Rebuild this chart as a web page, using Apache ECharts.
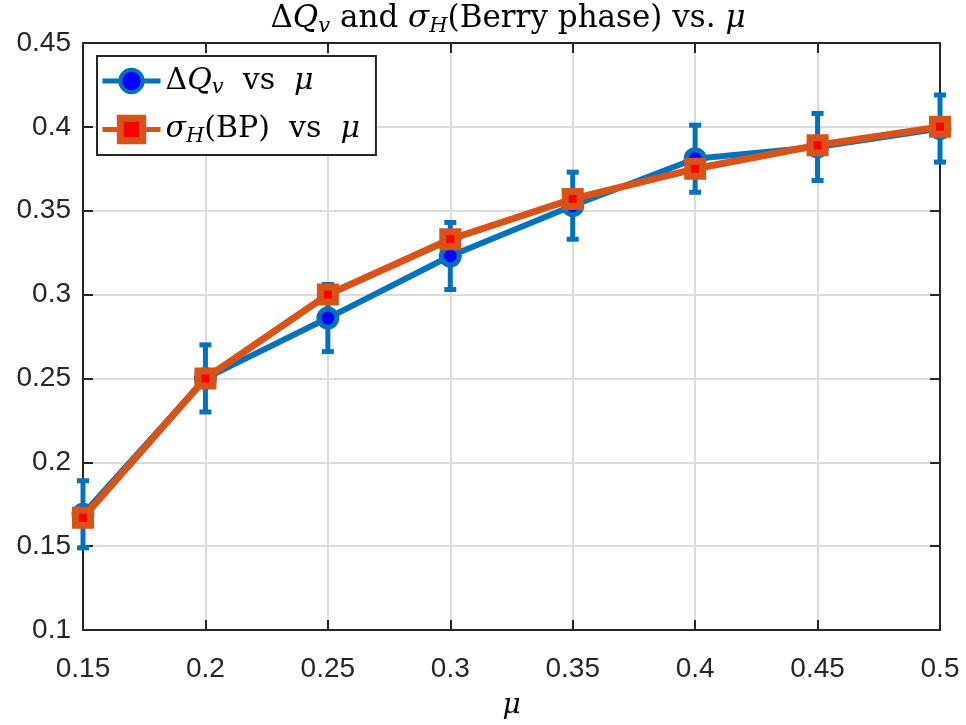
<!DOCTYPE html>
<html>
<head>
<meta charset="utf-8">
<script src="https://cdn.jsdelivr.net/npm/echarts@6/dist/echarts.min.js"></script>
<style>html,body{margin:0;padding:0;background:#fff}#c{width:966px;height:725px}</style>
</head>
<body>
<div id="c"></div>
<script>
var muValues = [0.15, 0.2, 0.25, 0.3, 0.35, 0.4, 0.45, 0.5];
var deltaQv = [0.169, 0.250, 0.286, 0.323, 0.353, 0.381, 0.388, 0.399];
var deltaQvErr = [0.020, 0.020, 0.020, 0.020, 0.020, 0.020, 0.020, 0.020];
var sigmaH = [0.167, 0.250, 0.300, 0.333, 0.357, 0.375, 0.389, 0.400];
var xTickLabels = ['0.15', '0.2', '0.25', '0.3', '0.35', '0.4', '0.45', '0.5'];
var yTickLabels = ['0.1', '0.15', '0.2', '0.25', '0.3', '0.35', '0.4', '0.45'];

var BLUE = '#0072BD', ORANGE = '#D95319', AX = '#262626';
var sans = 'Liberation Sans';
var serif = 'DejaVu Serif';

function fmt(list) {
  return function (v) {
    for (var i = 0; i < list.length; i++) if (Math.abs(parseFloat(list[i]) - v) < 1e-6) return list[i];
    return '';
  };
}

function mathStyles(size, sub, drop) {
  return {
    r: { fontFamily: serif, fontSize: size, fontWeight: 'normal', color: '#000' },
    i: { fontFamily: serif, fontSize: size, fontStyle: 'italic', fontWeight: 'normal', color: '#000' },
    s: { fontFamily: serif, fontSize: sub, fontStyle: 'italic', fontWeight: 'normal', color: '#000', padding: [drop, 0, 0, 0] }
  };
}

var chart = echarts.init(document.getElementById('c'), null, { renderer: 'canvas' });
var option = {
  backgroundColor: '#fff',
  animation: false,
  title: {
    text: '{r|Δ}{i|Q}{s|v}{r| and }{i|σ}{s|H}{r|(Berry phase) vs. }{i|μ}',
    left: 508, textAlign: 'center', top: 0, padding: [1, 0, 0, 0],
    textStyle: { fontFamily: serif, fontSize: 31, fontWeight: 'normal', rich: mathStyles(31, 21, 15) }
  },
  grid: { left: 83, right: 26, top: 43, bottom: 89, containLabel: false },
  legend: {
    orient: 'vertical', left: 97, top: 56,
    backgroundColor: '#fff', borderColor: AX, borderWidth: 2,
    padding: [10, 16, 8, 3], itemGap: 16, itemWidth: 58, itemHeight: 28,
    lineStyle: { width: 5 },
    data: [
      { name: 'dq', itemStyle: { color: '#0000FF', borderColor: BLUE, borderWidth: 4 } },
      { name: 'sh', itemStyle: { color: '#FF0000', borderColor: ORANGE, borderWidth: 7 } }
    ],
    formatter: function (n) {
      return n === 'dq' ? '{r|Δ}{i|Q}{s|v}{r|  vs  }{i|μ}' : '{i|σ}{s|H}{r|(BP)  vs  }{i|μ}';
    },
    textStyle: { fontFamily: serif, fontSize: 30, rich: mathStyles(30, 21, 14) }
  },
  xAxis: [{
    type: 'value', min: 0.15, max: 0.5, interval: 0.05,
    name: 'μ', nameLocation: 'middle', nameGap: 62,
    nameTextStyle: { fontFamily: serif, fontStyle: 'italic', fontSize: 28, color: '#000' },
    axisLine: { show: true, onZero: false, lineStyle: { color: AX, width: 2 } },
    axisTick: { show: true, inside: true, length: 10, lineStyle: { color: AX, width: 2 } },
    axisLabel: { fontFamily: sans, fontSize: 28, color: '#262626', margin: 25, formatter: fmt(xTickLabels), showMinLabel: true, showMaxLabel: true },
    splitLine: { show: true, lineStyle: { color: '#dcdcdc', width: 2 } }
  }, {
    type: 'value', position: 'top', min: 0.15, max: 0.5, interval: 0.05,
    axisLine: { show: true, onZero: false, lineStyle: { color: AX, width: 2 } },
    axisTick: { show: true, inside: true, length: 10, lineStyle: { color: AX, width: 2 } },
    axisLabel: { show: false }, splitLine: { show: false }
  }],
  yAxis: [{
    type: 'value', min: 0.1, max: 0.45, interval: 0.05,
    axisLine: { show: true, onZero: false, lineStyle: { color: AX, width: 2 } },
    axisTick: { show: true, inside: true, length: 10, lineStyle: { color: AX, width: 2 } },
    axisLabel: { fontFamily: sans, fontSize: 28, color: '#262626', margin: 12, formatter: fmt(yTickLabels), showMinLabel: true, showMaxLabel: true },
    splitLine: { show: true, lineStyle: { color: '#dcdcdc', width: 2 } }
  }, {
    type: 'value', position: 'right', min: 0.1, max: 0.45, interval: 0.05,
    axisLine: { show: true, onZero: false, lineStyle: { color: AX, width: 2 } },
    axisTick: { show: true, inside: true, length: 10, lineStyle: { color: AX, width: 2 } },
    axisLabel: { show: false }, splitLine: { show: false }
  }],
  series: [{
    name: 'errbar', type: 'custom', z: 2,
    data: muValues.map(function (x, i) { return [x, deltaQv[i] - deltaQvErr[i], deltaQv[i] + deltaQvErr[i]]; }),
    renderItem: function (params, api) {
      var lo = api.coord([api.value(0), api.value(1)]);
      var hi = api.coord([api.value(0), api.value(2)]);
      var hw = 6;
      var st = { stroke: BLUE, lineWidth: 5 };
      return { type: 'group', children: [
        { type: 'line', shape: { x1: lo[0], y1: lo[1], x2: hi[0], y2: hi[1] }, style: st },
        { type: 'line', shape: { x1: lo[0] - hw, y1: lo[1], x2: lo[0] + hw, y2: lo[1] }, style: st },
        { type: 'line', shape: { x1: hi[0] - hw, y1: hi[1], x2: hi[0] + hw, y2: hi[1] }, style: st }
      ] };
    },
    encode: { x: 0, y: [1, 2] }
  }, {
    name: 'dq', type: 'line', z: 3,
    data: muValues.map(function (x, i) { return [x, deltaQv[i]]; }),
    lineStyle: { color: BLUE, width: 6 },
    symbol: 'circle', symbolSize: 18,
    itemStyle: { color: '#0000FF', borderColor: BLUE, borderWidth: 5 }
  }, {
    name: 'sh', type: 'line', z: 4,
    data: muValues.map(function (x, i) { return [x, sigmaH[i]]; }),
    lineStyle: { color: ORANGE, width: 7 },
    symbol: 'rect', symbolSize: 15,
    itemStyle: { color: '#FF0000', borderColor: ORANGE, borderWidth: 7 }
  }]
};
chart.setOption(option);
</script>
</body>
</html>
